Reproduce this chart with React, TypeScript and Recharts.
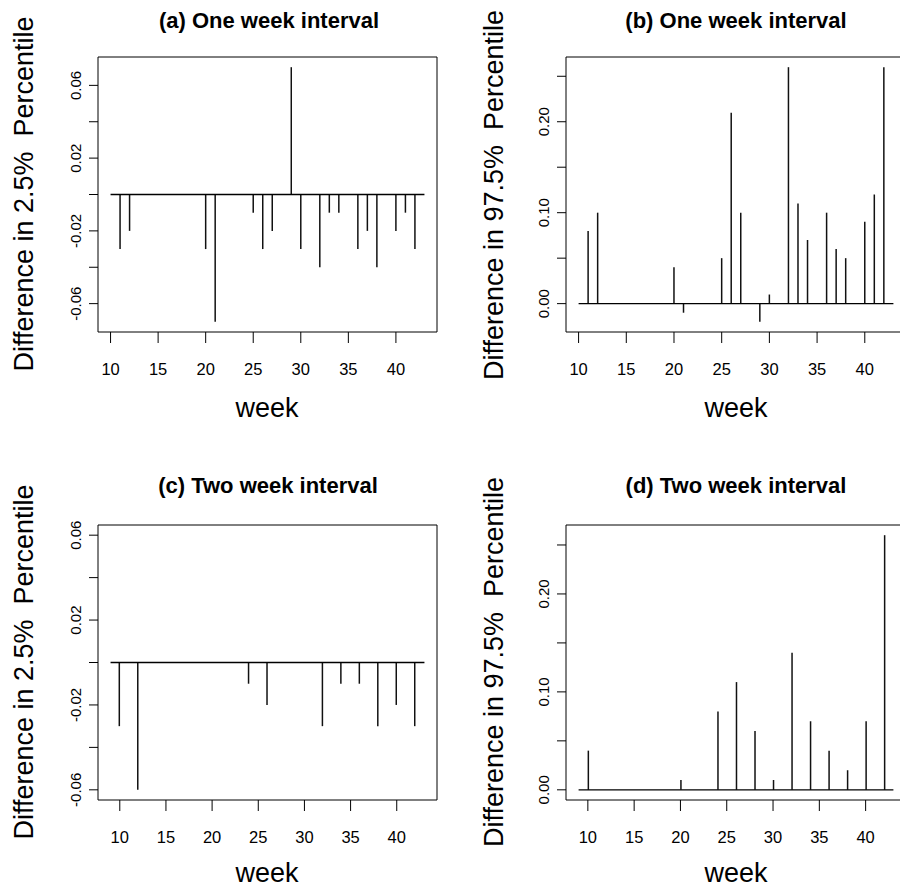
import React from "react";
import { ComposedChart, Bar, XAxis, YAxis, ReferenceArea, ReferenceLine } from "recharts";

const weekTicks = [10, 15, 20, 25, 30, 35, 40];

// (a) one week interval, 2.5% percentile
const weeksA = [11, 12, 20, 21, 25, 26, 27, 29, 30, 32, 33, 34, 36, 37, 38, 40, 41, 42];
const diffA = [-0.03, -0.02, -0.03, -0.07, -0.01, -0.03, -0.02, 0.07, -0.03, -0.04, -0.01, -0.01, -0.03, -0.02, -0.04, -0.02, -0.01, -0.03];

// (b) one week interval, 97.5% percentile
const weeksB = [11, 12, 20, 21, 25, 26, 27, 29, 30, 32, 33, 34, 36, 37, 38, 40, 41, 42];
const diffB = [0.08, 0.1, 0.04, -0.01, 0.05, 0.21, 0.1, -0.02, 0.01, 0.26, 0.11, 0.07, 0.1, 0.06, 0.05, 0.09, 0.12, 0.26];

// (c) two week interval, 2.5% percentile
const weeksC = [10, 12, 24, 26, 32, 34, 36, 38, 40, 42];
const diffC = [-0.03, -0.06, -0.01, -0.02, -0.03, -0.01, -0.01, -0.03, -0.02, -0.03];

// (d) two week interval, 97.5% percentile
const weeksD = [10, 20, 24, 26, 28, 30, 32, 34, 36, 38, 40, 42];
const diffD = [0.04, 0.01, 0.08, 0.11, 0.06, 0.01, 0.14, 0.07, 0.04, 0.02, 0.07, 0.26];

const weekRangeOne = [10, 43];
const weekRangeTwo = [9, 43];

const lowTicks = [-0.06, -0.04, -0.02, 0, 0.02, 0.04, 0.06];
const lowLabels = ["-0.06", "", "-0.02", "", "0.02", "", "0.06"];
const highTicks = [0, 0.05, 0.1, 0.15, 0.2, 0.25];
const highLabels = ["0.00", "", "0.10", "", "0.20", ""];

const FONT = "'Liberation Sans', Arial, Helvetica, sans-serif";

// R style 4% padding on each side
const pad = (lo: number, hi: number): [number, number] => {
  const d = (hi - lo) * 0.04;
  return [lo - d, hi + d];
};

const XTick = ({ x, y, payload }: any) => (
  <text x={x} y={y + 32} textAnchor="middle" fontSize={16.5} fontFamily={FONT} fill="#000">
    {payload.value}
  </text>
);

const makeYTick = (ticks: number[], labels: string[]) => ({ x, y, payload }: any) => {
  const i = ticks.findIndex((t) => Math.abs(t - payload.value) < 1e-9);
  const label = i >= 0 ? labels[i] : "";
  return (
    <text
      x={x}
      y={y}
      transform={`rotate(-90 ${x} ${y})`}
      textAnchor="middle"
      fontSize={15}
      fontFamily={FONT}
      fill="#000"
    >
      {label}
    </text>
  );
};

function Panel({
  weeks,
  diffs,
  range,
  yLim,
  ticks,
  labels,
  width,
  height,
  margin,
  xAxisHeight,
}: {
  weeks: number[];
  diffs: number[];
  range: number[];
  yLim: [number, number];
  ticks: number[];
  labels: string[];
  width: number;
  height: number;
  margin: { top: number; right: number; left: number; bottom: number };
  xAxisHeight: number;
}) {
  const data = weeks.map((w, i) => ({ week: w, diff: diffs[i] }));
  const xDom = pad(range[0], range[1]);
  const yDom = pad(yLim[0], yLim[1]);
  return (
    <ComposedChart width={width} height={height} data={data} margin={margin}>
      <XAxis
        dataKey="week"
        type="number"
        domain={xDom}
        ticks={weekTicks}
        interval={0}
        axisLine={false}
        tickLine={{ stroke: "#000", strokeWidth: 1 }}
        tickSize={11}
        tickMargin={0}
        height={xAxisHeight}
        tick={<XTick />}
        allowDataOverflow
      />
      <YAxis
        type="number"
        domain={yDom}
        ticks={ticks}
        interval={0}
        axisLine={false}
        tickLine={{ stroke: "#000", strokeWidth: 1 }}
        tickSize={9}
        tickMargin={8}
        width={98}
        tick={makeYTick(ticks, labels)}
        allowDataOverflow
      />
      <ReferenceArea
        x1={xDom[0]}
        x2={xDom[1]}
        y1={yDom[0]}
        y2={yDom[1]}
        fill="none"
        fillOpacity={0}
        stroke="#000"
        strokeWidth={1}
        ifOverflow="visible"
      />
      <Bar dataKey="diff" fill="#111" barSize={1.5} isAnimationActive={false} />
      <ReferenceLine
        segment={[
          { x: range[0], y: 0 },
          { x: range[1], y: 0 },
        ]}
        stroke="#000"
        strokeWidth={1.3}
      />
    </ComposedChart>
  );
}

export default function App() {
  const textStyle = { fontFamily: FONT, fill: "#000" } as const;
  const gap = "\u00A0 ";
  return (
    <div
      style={{
        position: "absolute",
        left: 0,
        top: 0,
        width: 900,
        height: 889,
        overflow: "hidden",
        background: "#fff",
      }}
    >
      <div style={{ position: "absolute", left: 0, top: 0 }}>
        <Panel
          weeks={weeksA}
          diffs={diffA}
          range={weekRangeOne}
          yLim={[-0.07, 0.07]}
          ticks={lowTicks}
          labels={lowLabels}
          width={450}
          height={445}
          margin={{ top: 57, right: 13, left: 0, bottom: 0 }}
          xAxisHeight={113}
        />
      </div>
      <div style={{ position: "absolute", left: 468, top: 0 }}>
        <Panel
          weeks={weeksB}
          diffs={diffB}
          range={weekRangeOne}
          yLim={[-0.02, 0.26]}
          ticks={highTicks}
          labels={highLabels}
          width={442}
          height={445}
          margin={{ top: 57, right: 4, left: 0, bottom: 0 }}
          xAxisHeight={113}
        />
      </div>
      <div style={{ position: "absolute", left: 0, top: 445 }}>
        <Panel
          weeks={weeksC}
          diffs={diffC}
          range={weekRangeTwo}
          yLim={[-0.06, 0.06]}
          ticks={lowTicks}
          labels={lowLabels}
          width={450}
          height={444}
          margin={{ top: 80, right: 13, left: 0, bottom: 0 }}
          xAxisHeight={89}
        />
      </div>
      <div style={{ position: "absolute", left: 468, top: 445 }}>
        <Panel
          weeks={weeksD}
          diffs={diffD}
          range={weekRangeTwo}
          yLim={[0, 0.26]}
          ticks={highTicks}
          labels={highLabels}
          width={442}
          height={444}
          margin={{ top: 80, right: 4, left: 0, bottom: 0 }}
          xAxisHeight={89}
        />
      </div>
      <svg
        width={900}
        height={889}
        style={{ position: "absolute", left: 0, top: 0, pointerEvents: "none" }}
      >
        <g fontSize={22} fontWeight="bold" textAnchor="middle" {...textStyle}>
          <text x={269} y={28}>(a) One week interval</text>
          <text x={736} y={28}>(b) One week interval</text>
          <text x={268} y={493}>(c) Two week interval</text>
          <text x={736} y={493}>(d) Two week interval</text>
        </g>
        <g fontSize={27} textAnchor="middle" {...textStyle}>
          <text x={267} y={417}>week</text>
          <text x={736} y={417}>week</text>
          <text x={267} y={882}>week</text>
          <text x={736} y={882}>week</text>
        </g>
        <g fontSize={27} textAnchor="middle" {...textStyle}>
          <text x={33} y={194} transform="rotate(-90 33 194)">{`Difference in 2.5%${gap}Percentile`}</text>
          <text x={503} y={195} transform="rotate(-90 503 195)">{`Difference in 97.5%${gap}Percentile`}</text>
          <text x={33} y={662} transform="rotate(-90 33 662)">{`Difference in 2.5%${gap}Percentile`}</text>
          <text x={503} y={662} transform="rotate(-90 503 662)">{`Difference in 97.5%${gap}Percentile`}</text>
        </g>
      </svg>
    </div>
  );
}
